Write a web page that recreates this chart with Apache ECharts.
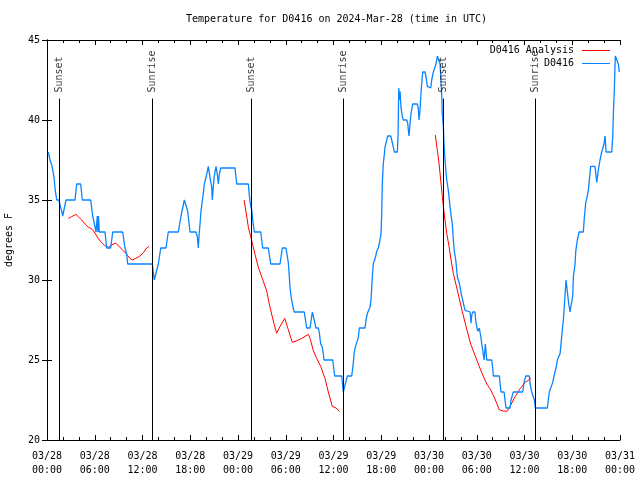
<!DOCTYPE html>
<html>
<head>
<meta charset="utf-8">
<script src="https://cdn.jsdelivr.net/npm/echarts@6/dist/echarts.min.js"></script>
<style>html,body{margin:0;padding:0;background:#fff}#c{width:640px;height:480px}</style>
</head>
<body>
<div id="c"></div>
<script>
// Hours after 2024-03-28 00:00 UTC
const xTickLabels = ['03/28\n00:00','03/28\n06:00','03/28\n12:00','03/28\n18:00','03/29\n00:00','03/29\n06:00','03/29\n12:00','03/29\n18:00','03/30\n00:00','03/30\n06:00','03/30\n12:00','03/30\n18:00','03/31\n00:00'];

const blueHours = [0.16,0.38,0.59,0.79,0.92,1.01,1.13,1.22,1.51,1.63,1.85,1.97,2.17,2.39,3.52,3.73,4.23,4.44,5.49,5.74,5.94,6.16,6.32,6.39,6.47,6.56,7.29,7.50,8.00,8.26,9.51,9.80,10.02,10.14,13.23,13.48,13.70,13.99,14.29,14.95,15.24,16.50,16.84,17.00,17.25,17.47,17.68,17.97,18.72,18.89,19.01,19.14,19.23,19.35,19.48,19.64,19.77,19.94,20.07,20.27,20.40,20.48,20.70,20.77,20.90,20.99,21.24,21.40,21.53,21.65,21.83,23.62,23.84,25.30,25.42,25.60,25.72,25.85,26.05,26.85,27.10,27.81,28.11,29.28,29.57,30.03,30.32,30.41,30.54,30.66,30.82,30.95,31.08,32.33,32.63,33.05,33.34,33.55,33.80,34.09,34.22,34.39,34.59,34.72,34.81,35.90,36.15,37.03,37.23,37.48,37.74,38.29,38.49,38.61,38.79,38.99,39.12,39.24,39.96,40.09,40.25,40.50,40.59,40.71,40.80,40.88,41.00,41.13,41.31,41.43,41.63,41.76,41.84,41.97,42.06,42.13,42.26,42.38,42.47,42.69,42.81,43.19,43.31,43.52,43.64,44.02,44.11,44.20,44.27,44.36,44.48,44.65,44.77,45.20,45.33,45.40,45.49,45.62,45.74,45.95,46.53,46.66,46.75,46.87,47.00,47.09,47.21,47.50,47.63,47.79,48.22,48.34,48.54,48.76,48.88,49.05,49.30,49.39,49.47,49.60,49.67,49.80,49.89,50.01,50.14,50.23,50.43,50.64,50.77,50.93,51.06,51.18,51.36,51.56,51.81,51.99,52.11,52.32,52.53,52.74,53.16,53.28,53.37,53.50,53.78,53.91,54.12,54.32,54.50,54.63,54.75,54.92,55.08,55.26,55.88,56.01,56.08,56.84,56.92,57.05,57.43,57.55,57.68,58.18,58.31,58.60,59.78,59.94,60.16,60.61,60.70,60.91,61.24,61.36,62.87,62.99,63.12,63.55,63.71,63.96,64.13,64.47,64.68,64.88,65.09,65.22,65.38,65.56,65.72,65.93,66.06,66.14,66.35,66.44,66.64,66.85,67.39,67.52,67.69,67.82,68.02,68.32,68.86,69.08,69.28,69.49,69.70,69.99,70.12,70.25,70.96,71.09,71.16,71.29,71.41,71.66,71.79,71.91];
const blueTemps = [38.0,37.5,37.2,36.7,36.25,35.7,35.3,35.0,35,34.7,34.3,34,34,35,35,36,36,35,35,34,34,33,34,33,34,33,33,32,32,33,33,32,31.6,31,31,30,30,31,32,32,33,33,34,34,35,35,34.3,33,33,32.7,32,33,33.5,34.3,34.8,35.4,36,36,36.6,37.1,36.7,36.4,35.8,35,35.8,36.4,37.1,36.6,36,36.6,37,37,36,36,35.3,34.6,34.4,33.75,33,33,32,32,31,31,32,32,31.1,30.5,29.5,29,29,28.2,28,28,27,27,28,28,27,27,26.7,26,25.8,25.4,25,25,24,24,23,23,24,24,24.8,25.5,25.9,26,26.4,27,27,27.5,27.9,28,28.3,28.75,29.5,30.2,31,31.1,31.5,31.8,32,32.1,32.5,32.9,34.2,36,37.3,37.8,38.3,38.75,39,39,38.75,38.3,38,38,39,42,41.25,41.8,40.8,40.2,40,40,39.8,39.4,39,39.8,40.4,41,41,40.7,40,40.6,41.7,42.3,43,43,42.7,42.1,42,42.5,43,43.1,43.5,44,44,43.5,42.8,41.5,40.4,39.6,38.5,37.5,36.7,36.25,35.6,34.6,34.06,33.5,32.5,31.8,31.25,30.2,29.8,29.3,29,28.9,28.1,28,28,27.3,27.8,28,28,27.3,26.8,27,26.5,26,25.6,25,26,25,25,24.5,24,24,23.6,23,23,22.5,22,22,22.5,23,23,23.6,24,24,23.5,23,22.5,22,22,22.5,23,23.6,24,24.5,25,25.4,26.5,27.5,29,30,30,28.5,28,28,29,30.2,31,31.8,32.5,33,33,33.9,34.8,35.1,35.6,37.1,37.1,36.1,36.9,37.5,38,38.5,39,38,38,39,40.3,41.9,44,44,43.5,43];

// null separates the three analysis segments
const redHours = [2.68,3.10,3.64,3.93,4.36,4.78,5.19,5.62,5.94,6.25,6.57,6.95,7.38,7.70,8.13,8.63,9.05,9.46,10.02,10.43,10.72,11.15,11.69,12.10,12.53,12.82,null,
  24.76,25.09,25.30,25.60,25.85,26.14,26.55,27.05,27.61,27.93,28.31,28.61,28.86,29.28,29.87,30.32,30.82,31.38,32.01,32.84,33.05,33.46,33.89,34.39,34.93,35.35,35.85,36.32,36.73,null,
  48.79,49.05,49.26,49.47,49.64,49.80,50.01,50.23,50.52,50.77,51.06,51.40,51.73,52.15,52.65,53.24,54.00,54.63,55.26,55.67,56.08,56.51,56.80,57.34,57.84,58.18,58.81,59.44,60.07,60.82];
const redTemps = [33.85,33.96,34.1,33.96,33.75,33.5,33.3,33.2,33.0,32.75,32.5,32.3,32.1,32.05,32.2,32.3,32.1,31.9,31.6,31.35,31.25,31.35,31.5,31.7,32.0,32.1,null,
  35,34.0,33.3,32.7,32.2,31.6,30.8,30.1,29.3,28.5,27.7,27.1,26.67,27.1,27.6,26.9,26.1,26.2,26.35,26.6,26.35,25.6,25.1,24.6,23.85,23.0,22.1,22.0,21.8,null,
  39.06,38.1,37.3,36.25,35.4,34.6,33.75,32.9,32.1,31.25,30.4,29.7,29.0,28.1,27.1,26.0,25.0,24.2,23.5,23.2,22.8,22.3,21.9,21.8,21.8,22.1,22.7,23.2,23.6,23.85];

const sunHours = [1.55,13.23,25.67,37.23,49.80,61.36];
const sunNames = ['Sunset','Sunrise','Sunset','Sunrise','Sunset','Sunrise'];
const sunLineTop = 41.34;

const FONT = 'DejaVu Sans Mono';
const blueData = blueHours.map((h,i)=>[h, blueTemps[i]]);
const redData = redHours.map((h,i)=> h === null ? '-' : [h, redTemps[i]]);

const chart = echarts.init(document.getElementById('c'));
const axisCommon = {
  type: 'value', min: 0, max: 72, interval: 6,
  axisLine: {show: true, lineStyle: {color: '#000', width: 1}},
  axisTick: {show: true, inside: true, length: 5, lineStyle: {color: '#000'}},
  minorTick: {show: true, splitNumber: 3, length: 3, lineStyle: {color: '#000'}},
  splitLine: {show: false}
};
chart.setOption({
  animation: false,
  backgroundColor: '#fff',
  title: {
    text: 'Temperature for D0416 on 2024-Mar-28 (time in UTC)',
    left: 181, top: 9,
    textStyle: {fontFamily: FONT, fontSize: 10, fontWeight: 'normal', color: '#000'}
  },
  legend: {
    data: ['D0416 Analysis', 'D0416'],
    orient: 'vertical', right: 25, top: 40,
    align: 'right', icon: 'rect', itemWidth: 28, itemHeight: 1, itemGap: 2,
    textStyle: {fontFamily: FONT, fontSize: 10, color: '#000', padding: [0, 3, 0, 0], lineHeight: 11}
  },
  grid: {left: 47, right: 20, top: 40, bottom: 40, containLabel: false, outerBoundsMode: 'none'},
  xAxis: [
    Object.assign({}, axisCommon, {
      position: 'bottom',
      axisLabel: {
        margin: 9, color: '#000', fontFamily: FONT, fontSize: 10, lineHeight: 14,
        formatter: v => xTickLabels[Math.round(v / 6)]
      }
    }),
    Object.assign({}, axisCommon, {position: 'top', axisLabel: {show: false}})
  ],
  yAxis: [
    {
      type: 'value', min: 20, max: 45, interval: 5, position: 'left',
      name: 'degrees F', nameLocation: 'middle', nameGap: 33,
      nameTextStyle: {fontFamily: FONT, fontSize: 10, color: '#000'},
      axisLine: {show: true, lineStyle: {color: '#000'}},
      axisTick: {show: true, inside: true, length: 5, lineStyle: {color: '#000'}},
      axisLabel: {color: '#000', fontFamily: FONT, fontSize: 10, margin: 7},
      splitLine: {show: false}
    },
    {
      type: 'value', min: 20, max: 45, interval: 5, position: 'right',
      axisLine: {show: true, lineStyle: {color: '#000'}},
      axisTick: {show: true, inside: true, length: 5, lineStyle: {color: '#000'}},
      axisLabel: {show: false}, splitLine: {show: false}
    }
  ],
  series: [
    {
      name: 'D0416 Analysis', type: 'line', data: redData, showSymbol: false,
      connectNulls: false, color: '#ff0000', lineStyle: {width: 1, color: '#ff0000'}, z: 2
    },
    {
      name: 'D0416', type: 'line', data: blueData, showSymbol: false,
      color: '#0a84ff', lineStyle: {width: 1.3, color: '#0a84ff'}, z: 3
    },
    {
      name: 'sun', type: 'scatter', symbolSize: 0, z: 5, silent: true,
      data: sunHours.map((h,i)=>({value: [h, sunLineTop], name: sunNames[i]})),
      label: {
        show: true, formatter: '{b}', position: 'top', distance: 6, rotate: 90,
        align: 'left', verticalAlign: 'middle',
        fontFamily: FONT, fontSize: 10, color: '#000'
      },
      markLine: {
        silent: true, symbol: 'none', label: {show: false}, animation: false,
        lineStyle: {color: '#000', type: 'solid', width: 1},
        data: sunHours.map(h => [{coord: [h, 20]}, {coord: [h, sunLineTop]}])
      }
    }
  ]
});
</script>
</body>
</html>
